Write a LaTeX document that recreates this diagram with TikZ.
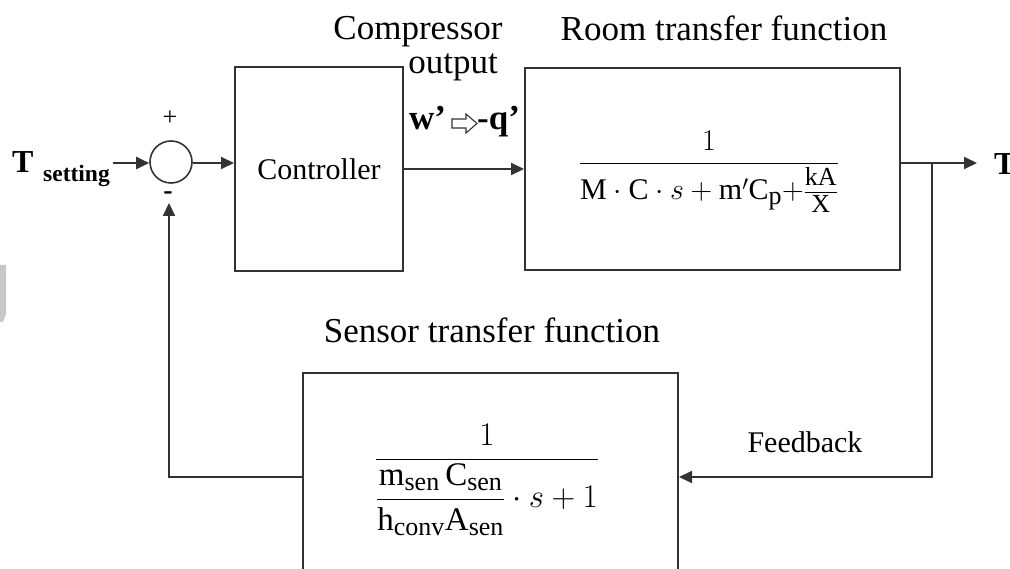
\RequirePackage{fix-cm}
\documentclass[tikz,border=0pt]{standalone}
\usepackage{amsmath}
\usepackage{fontspec}
\setmainfont{Liberation Serif}
\usetikzlibrary{arrows.meta}
\newcommand\setfs[1]{\fontsize{#1}{#1}\selectfont}
\newcommand\rsub[1]{\text{\setfs{26}#1}}
\definecolor{linec}{HTML}{333333}
\definecolor{wm}{HTML}{C8C8C8}
\begin{document}
\begin{tikzpicture}[x=1pt,y=-1pt,
  box/.style={draw=linec,line width=2pt,inner sep=0pt},
  sig/.style={draw=linec,line width=2pt,-{Triangle[length=13pt,width=12pt]}},
  lbl/.style={inner sep=0pt,anchor=base,font=\setfs{35}},
  lbls/.style={inner sep=0pt,anchor=base,font=\setfs{30}}]
\useasboundingbox (0,0) rectangle (1010,569);
% watermark fragment
\fill[wm] (0,265) -- (6,265) -- (6,314) -- (3,322) -- (0,322) -- cycle;
% blocks
\node[box,minimum width=168pt,minimum height=204pt,font=\setfs{30}] (ctrl) at (319,169) {Controller};
\node[box,minimum width=375pt,minimum height=202pt] (room) at (712.5,169) {};
\node[box,minimum width=375pt,minimum height=208pt] (sens) at (490.5,477) {};
\node[draw=linec,line width=1.6pt,circle,minimum size=42pt,inner sep=0pt] (sum) at (171,162) {};
% formulas
\node[inner sep=0pt,font=\setfs{30}] (roomtf) at (709,172)
  {$\displaystyle\frac{1}{\mathrm{M}\cdot\mathrm{C}\cdot s+\mathrm{m}'\mathrm{C}_{\rsub{p}}{+}\frac{\raisebox{2.5pt}{\setfs{26}kA}}{\raisebox{-2.5pt}{\setfs{26}X}}}$};
\node[inner sep=0pt,font=\setfs{33}] (senstf) at (487,480)
  {$\displaystyle\frac{1}{\dfrac{\mathrm{m}_{\rsub{sen}}\,\mathrm{C}_{\rsub{sen}}}{\mathrm{h}_{\rsub{conv}}\mathrm{A}_{\rsub{sen}}}\cdot s+1}$};
% labels
\node[lbl] (comp) at (418,40) {Compressor};
\node[lbl] (outp) at (453,74) {output};
\node[lbl] (roomlbl) at (724,41) {Room transfer function};
\node[lbl] (senslbl) at (492,343) {Sensor transfer function};
\node[lbls] (fb) at (805,453) {Feedback};
\node[inner sep=0pt,anchor=base west,font=\setfs{32}\bfseries] (tin) at (12,173) {T};
\node[inner sep=0pt,anchor=base west,font=\setfs{23.5}\bfseries] (tset) at (43,182) {setting};
\node[inner sep=0pt,anchor=base west,font=\setfs{32}\bfseries] (tout) at (994,175) {T};
\node[inner sep=0pt,font=\setfs{26}] (plus) at (170,118) {+};
\node[inner sep=0pt,font=\setfs{28}\bfseries] (minus) at (168,196) {-};
\node[inner sep=0pt,anchor=base west,font=\setfs{35}\bfseries] (wq) at (409,130) {w’};
\node[inner sep=0pt,anchor=base west,font=\setfs{35}\bfseries] (qq) at (477,130) {-q’};
\draw[draw=linec,line width=1.1pt,fill=white] (452,119) -- (466,119) -- (466,114) -- (477,123.5) -- (466,133) -- (466,128) -- (452,128) -- cycle;
% coordinates
\coordinate (inend) at (113,163);
\coordinate (tap) at (932,163);
\coordinate (fbin) at (169,203);
% connectors
\draw[sig] (inend) -- (sum.west |- inend);
\draw[sig] (sum.east |- inend) -- (ctrl.west |- inend);
\draw[sig] (ctrl.east) -- (room.west);
\draw[sig] (room.east |- tap) -- (977,163);
\draw[sig] (tap) |- (sens.east);
\draw[sig] (sens.west) -| (fbin);
\end{tikzpicture}
\end{document}
